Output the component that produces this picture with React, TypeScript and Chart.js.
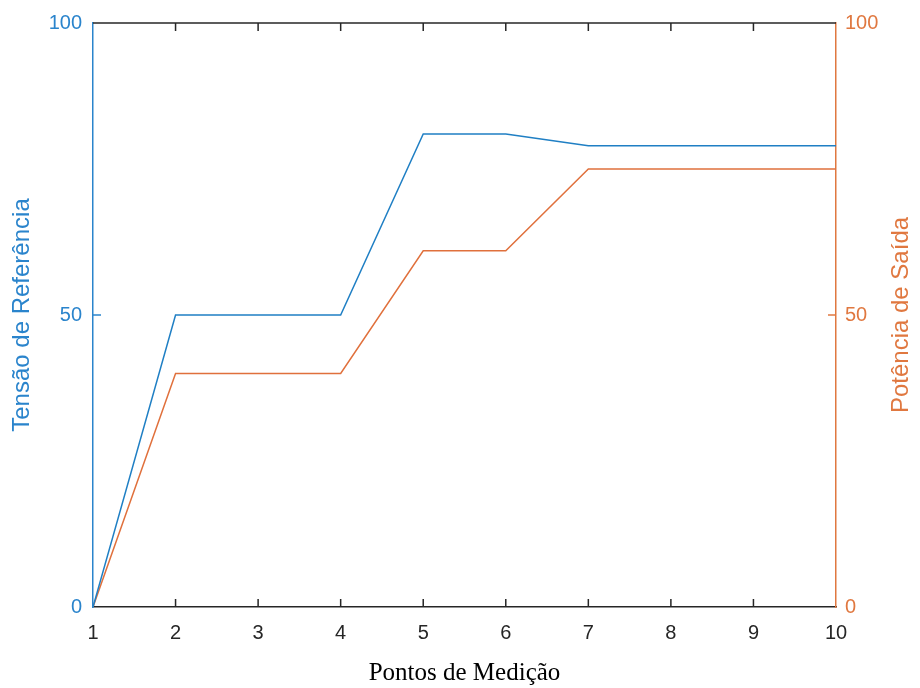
import React, { useEffect, useRef } from "react";
import { Chart, registerables } from "chart.js";

Chart.register(...registerables);

const pontos = [1, 2, 3, 4, 5, 6, 7, 8, 9, 10];
const tensaoReferencia = [0, 50, 50, 50, 81, 81, 79, 79, 79, 79];
const potenciaSaida = [0, 40, 40, 40, 61, 61, 75, 75, 75, 75];
const yTicks = [0, 50, 100];
const rightTitle = "Potência de Saída";

const BLUE = "#2a84cc";
const BLUE_LINE = "#1f7fc4";
const ORANGE = "#e07840";
const ORANGE_LINE = "#e0703c";
const AXIS = "#262626";
const SANS = "'Liberation Sans', Arial, sans-serif";
const SERIF = "'Liberation Serif', 'Times New Roman', serif";

const frameTicks = {
  id: "frameTicks",
  afterDraw(chart: any) {
    const { ctx, chartArea } = chart;
    const xs = chart.scales.x;
    const yl = chart.scales.y;
    const yr = chart.scales.y1;
    const L = 8;
    ctx.save();
    ctx.lineWidth = 1.5;
    ctx.strokeStyle = AXIS;
    ctx.beginPath();
    ctx.moveTo(chartArea.left, chartArea.top);
    ctx.lineTo(chartArea.right, chartArea.top);
    ctx.stroke();
    ctx.beginPath();
    for (const v of pontos) {
      if (v === pontos[0] || v === pontos[pontos.length - 1]) continue;
      const px = xs.getPixelForValue(v);
      ctx.moveTo(px, chartArea.bottom);
      ctx.lineTo(px, chartArea.bottom - L);
      ctx.moveTo(px, chartArea.top);
      ctx.lineTo(px, chartArea.top + L);
    }
    ctx.stroke();
    ctx.strokeStyle = BLUE;
    ctx.beginPath();
    for (const v of yTicks.slice(1, -1)) {
      const py = yl.getPixelForValue(v);
      ctx.moveTo(chartArea.left, py);
      ctx.lineTo(chartArea.left + L, py);
    }
    ctx.stroke();
    ctx.strokeStyle = ORANGE;
    ctx.beginPath();
    for (const v of yTicks.slice(1, -1)) {
      const py = yr.getPixelForValue(v);
      ctx.moveTo(chartArea.right, py);
      ctx.lineTo(chartArea.right - L, py);
    }
    ctx.stroke();
    // right axis title, reading bottom-to-top
    const cy = (chartArea.top + chartArea.bottom) / 2;
    const cx = yr.right - 19;
    ctx.translate(cx, cy);
    ctx.rotate(-Math.PI / 2);
    ctx.fillStyle = ORANGE;
    ctx.font = `24px ${SANS}`;
    ctx.textAlign = "center";
    ctx.textBaseline = "middle";
    ctx.fillText(rightTitle, 0, 0);
    ctx.restore();
  },
};

export default function App() {
  const ref = useRef<HTMLCanvasElement | null>(null);

  useEffect(() => {
    document.body.style.margin = "0";
    if (!ref.current) return;
    const chart = new Chart(ref.current, {
      type: "line",
      data: {
        datasets: [
          {
            label: "Tensão de Referência",
            data: pontos.map((x, i) => ({ x, y: tensaoReferencia[i] })),
            borderColor: BLUE_LINE,
            borderWidth: 1.5,
            pointRadius: 0,
            yAxisID: "y",
            tension: 0,
          },
          {
            label: rightTitle,
            data: pontos.map((x, i) => ({ x, y: potenciaSaida[i] })),
            borderColor: ORANGE_LINE,
            borderWidth: 1.5,
            pointRadius: 0,
            yAxisID: "y1",
            tension: 0,
          },
        ],
      },
      options: {
        responsive: false,
        animation: false,
        layout: { padding: { top: 23, left: 0, right: 0, bottom: 0 } },
        plugins: { legend: { display: false }, tooltip: { enabled: false } },
        scales: {
          x: {
            type: "linear",
            min: 1,
            max: 10,
            afterBuildTicks: (s: any) => {
              s.ticks = pontos.map((v) => ({ value: v }));
            },
            afterFit: (s: any) => {
              s.height = 81;
            },
            grid: { display: false, drawTicks: false },
            border: { display: true, color: AXIS, width: 1.5 },
            ticks: {
              color: AXIS,
              font: { family: SANS, size: 20 },
              padding: 14,
              maxRotation: 0,
              autoSkip: false,
            },
            title: {
              display: true,
              text: "Pontos de Medição",
              color: "#000000",
              font: { family: SERIF, size: 25 },
              padding: { top: 0, bottom: 0 },
            },
          },
          y: {
            type: "linear",
            position: "left",
            min: 0,
            max: 100,
            afterBuildTicks: (s: any) => {
              s.ticks = yTicks.map((v) => ({ value: v }));
            },
            afterFit: (s: any) => {
              s.width = 93;
            },
            grid: { display: false, drawTicks: false },
            border: { display: true, color: BLUE, width: 1.5 },
            ticks: {
              color: BLUE,
              font: { family: SANS, size: 20 },
              padding: 11,
            },
            title: {
              display: true,
              text: "Tensão de Referência",
              color: BLUE,
              font: { family: SANS, size: 24 },
              padding: { top: 8, bottom: 0 },
            },
          },
          y1: {
            type: "linear",
            position: "right",
            min: 0,
            max: 100,
            afterBuildTicks: (s: any) => {
              s.ticks = yTicks.map((v) => ({ value: v }));
            },
            afterFit: (s: any) => {
              s.width = 84;
            },
            grid: { display: false, drawTicks: false },
            border: { display: true, color: ORANGE, width: 1.5 },
            ticks: {
              color: ORANGE,
              font: { family: SANS, size: 20 },
              padding: 9,
            },
            title: { display: false },
          },
        },
      },
      plugins: [frameTicks],
    } as any);
    return () => chart.destroy();
  }, []);

  return (
    <div style={{ width: 920, height: 688, background: "#ffffff" }}>
      <canvas ref={ref} width={920} height={688} style={{ display: "block" }} />
    </div>
  );
}
